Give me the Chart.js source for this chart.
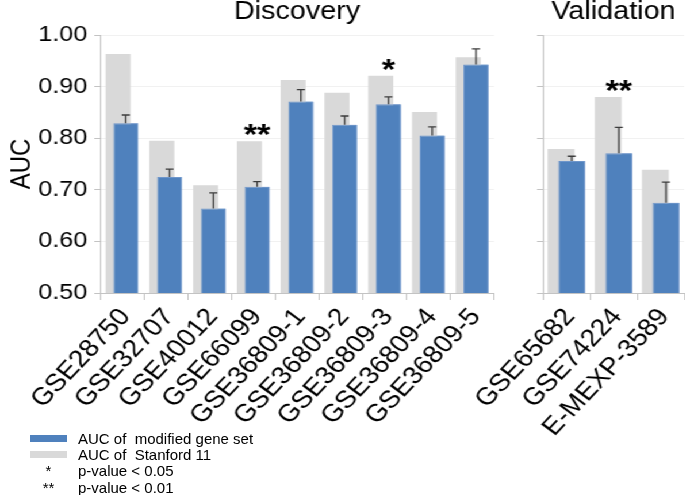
<!DOCTYPE html>
<html>
<head>
<meta charset="utf-8">
<script src="https://cdn.jsdelivr.net/npm/chart.js@4.4.1/dist/chart.umd.min.js"></script>
<style>
  html, body { margin: 0; padding: 0; background: #fff; }
  body { width: 685px; height: 495px; position: relative; overflow: hidden; font-family: "Liberation Sans", Arial, sans-serif; }
  /* the original figure is a bit wider than tall, so the drawing is stretched sideways */
  #stretch { position: absolute; left: 0; top: 0; width: 596px; height: 445px; transform: scaleX(1.15); transform-origin: 0 0; }
  #stretch canvas { position: absolute; left: 0; top: 0; }
  #legend { position: absolute; left: 30px; top: 430px; font-size: 15px; color: #000; }
  #legend .row { height: 16.3px; display: flex; align-items: center; white-space: pre; }
  #legend .sw { width: 37px; height: 7px; margin-right: 11px; }
  #legend .mark { width: 37px; margin-right: 11px; text-align: center; }
</style>
</head>
<body>
<div id="stretch">
  <canvas id="chart_discovery" width="596" height="445"></canvas>
  <canvas id="chart_validation" width="596" height="445"></canvas>
</div>
<div id="legend"></div>
<script>
// data
const discoveryLabels = ['GSE28750', 'GSE32707', 'GSE40012', 'GSE66099', 'GSE36809-1', 'GSE36809-2', 'GSE36809-3', 'GSE36809-4', 'GSE36809-5'];
const discoveryStanford = [0.963, 0.795, 0.709, 0.794, 0.913, 0.888, 0.921, 0.851, 0.957];
const discoveryModified = [0.829, 0.725, 0.664, 0.706, 0.871, 0.826, 0.866, 0.805, 0.943];
const discoveryError = [0.016, 0.015, 0.030, 0.010, 0.023, 0.017, 0.014, 0.017, 0.030];
const discoveryMarks = ['', '', '', '**', '', '', '*', '', ''];

const validationLabels = ['GSE65682', 'GSE74224', 'E-MEXP-3589'];
const validationStanford = [0.779, 0.880, 0.739];
const validationModified = [0.756, 0.771, 0.675];
const validationError = [0.009, 0.050, 0.040];
const validationMarks = ['', '**', ''];

const yTickLabels = ['0.50', '0.60', '0.70', '0.80', '0.90', '1.00'];
const modifiedName = 'AUC of  modified gene set';
const stanfordName = 'AUC of  Stanford 11';
const legendMarks = [['*', 'p-value < 0.05'], ['**', 'p-value < 0.01']];

const FONT = '"Liberation Sans", Arial, sans-serif';
const BLUE = '#4f81bd';
const GREY = '#d9d9d9';
const AXIS = '#c3c3c3';
const GRID = '#f1f1f1';

Chart.defaults.font.family = FONT;
Chart.defaults.color = '#000';

// blue bars in front, upper error whiskers and significance stars
function overlayPlugin(errors, marks) {
    return {
        id: 'overlay',
        afterDatasetsDraw(chart) {
            const ctx = chart.ctx;
            const area = chart.chartArea;
            const yScale = chart.scales.y;
            const grey = chart.getDatasetMeta(0);
            const blue = chart.getDatasetMeta(1);
            const values = chart.data.datasets[1].data;

            ctx.save();
            ctx.beginPath();
            ctx.rect(area.left, area.top, area.right - area.left, area.bottom - area.top);
            ctx.clip();
            blue.controller.draw();
            ctx.restore();

            ctx.save();
            ctx.strokeStyle = '#3c3c3c';
            ctx.lineWidth = 1.3;
            blue.data.forEach(function(bar, i) {
                const top = yScale.getPixelForValue(values[i] + errors[i]);
                ctx.beginPath();
                ctx.moveTo(bar.x, bar.y);
                ctx.lineTo(bar.x, top);
                ctx.moveTo(bar.x - 3.5, top);
                ctx.lineTo(bar.x + 3.5, top);
                ctx.stroke();
            });

            ctx.fillStyle = '#000';
            ctx.font = 'bold 30px ' + FONT;
            ctx.textAlign = 'center';
            ctx.textBaseline = 'alphabetic';
            marks.forEach(function(m, i) {
                if (m) ctx.fillText(m, blue.data[i].x, grey.data[i].y + 3);
            });
            ctx.restore();
        }
    };
}

function makePanel(canvasId, title, labels, stanford, modified, errors, marks, opts) {
    const barOpts = { categoryPercentage: opts.catPct, barPercentage: opts.barPct };
    new Chart(document.getElementById(canvasId), {
        type: 'bar',
        data: {
            labels: labels,
            datasets: [
                Object.assign({ label: stanfordName, data: stanford, backgroundColor: GREY, borderWidth: 0 }, barOpts),
                Object.assign({ label: modifiedName, data: modified, backgroundColor: BLUE, borderColor: '#6e96cb', borderWidth: 1 }, barOpts)
            ]
        },
        options: {
            responsive: false,
            animation: false,
            events: [],
            layout: { padding: { left: 0, right: opts.padRight, top: 0, bottom: 0 } },
            plugins: {
                legend: { display: false },
                tooltip: { enabled: false },
                title: {
                    display: true,
                    text: title,
                    fullSize: false,
                    color: '#000',
                    font: { size: 25, weight: 'normal', lineHeight: 1 },
                    padding: { top: 0, bottom: 10 }
                }
            },
            scales: {
                x: {
                    offset: true,
                    grid: { offset: true, drawOnChartArea: false, tickLength: 7, tickColor: AXIS },
                    border: { color: AXIS },
                    ticks: { autoSkip: false, minRotation: 50, maxRotation: 50, padding: 3, labelOffset: 3, font: { size: 24.5 } },
                    afterFit(scale) {
                        scale.height = 152;
                        scale.paddingLeft = 0;
                        scale.paddingRight = 0;
                    }
                },
                y: {
                    min: 0.5,
                    max: 1.0,
                    grid: { color: GRID, tickColor: AXIS, tickLength: 5 },
                    border: { color: AXIS },
                    ticks: {
                        display: opts.showTicks,
                        stepSize: 0.1,
                        padding: 6,
                        font: { size: 22 },
                        callback: function(v, i) { return yTickLabels[i]; }
                    },
                    title: { display: opts.showTicks, text: 'AUC', font: { size: 24 }, padding: { top: 5, bottom: 0 } },
                    afterFit(scale) {
                        scale.width = opts.axisWidth;
                    }
                }
            }
        },
        plugins: [overlayPlugin(errors, marks)]
    });
}

makePanel('chart_discovery', 'Discovery', discoveryLabels, discoveryStanford, discoveryModified, discoveryError, discoveryMarks,
    { catPct: 0.352, barPct: 3.25, padRight: 166.4, axisWidth: 87, showTicks: true });
makePanel('chart_validation', 'Validation', validationLabels, validationStanford, validationModified, validationError, validationMarks,
    { catPct: 0.45, barPct: 2.53, padRight: 1, axisWidth: 472, showTicks: false });

// legend below the x labels
const legend = document.getElementById('legend');
[[BLUE, modifiedName], [GREY, stanfordName]].forEach(function(item) {
    const row = document.createElement('div');
    row.className = 'row';
    row.innerHTML = '<span class="sw" style="background:' + item[0] + '"></span><span>' + item[1] + '</span>';
    legend.appendChild(row);
});
legendMarks.forEach(function(item) {
    const row = document.createElement('div');
    row.className = 'row';
    row.innerHTML = '<span class="mark">' + item[0] + '</span><span>' + item[1] + '</span>';
    legend.appendChild(row);
});
</script>
</body>
</html>
